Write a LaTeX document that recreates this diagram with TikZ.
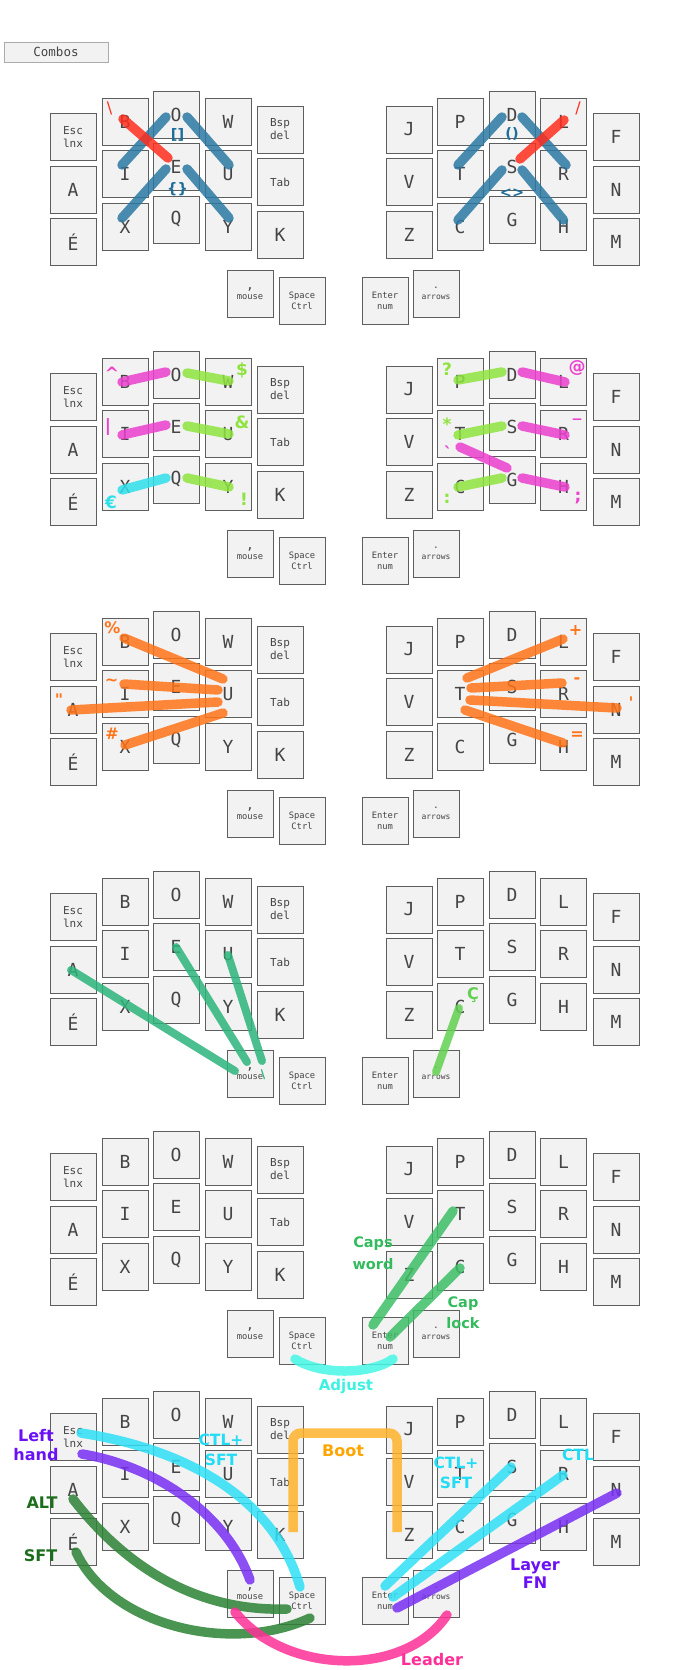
\documentclass[tikz,border=0pt]{standalone}
\usepackage{fontspec}
\setmainfont{DejaVu Sans}
\newfontfamily\keyfont{DejaVu Sans Mono}

\definecolor{keyfill}{HTML}{F2F2F2}
\definecolor{keyline}{HTML}{5E5E5E}
\definecolor{keytext}{HTML}{454545}
\definecolor{headline}{HTML}{ABABAB}
\definecolor{cbblue}{HTML}{2B79A3}
\definecolor{cbbluetx}{HTML}{1E6E9A}
\definecolor{cbred}{HTML}{FF2E1F}
\definecolor{cbpink}{HTML}{EC40CE}
\definecolor{cblime}{HTML}{8FE33F}
\definecolor{cbcyan}{HTML}{2EE0EA}
\definecolor{cborange}{HTML}{FF7418}
\definecolor{cbteal}{HTML}{2DB47C}
\definecolor{cbgreen}{HTML}{62D151}
\definecolor{cbcaps}{HTML}{3DBE66}
\definecolor{cbaqua}{HTML}{45F7E6}
\definecolor{cbsky}{HTML}{30E0F7}
\definecolor{cbpurple}{HTML}{7830F2}
\definecolor{cbdark}{HTML}{2C8235}
\definecolor{cbboot}{HTML}{FFB22B}
\definecolor{cbleader}{HTML}{FF2F97}
\definecolor{txpurple}{HTML}{6A12F5}
\definecolor{txdark}{HTML}{1C6E1C}
\definecolor{txsky}{HTML}{22DDF5}
\definecolor{txboot}{HTML}{FFA500}
\definecolor{txcaps}{HTML}{33BB5E}
\definecolor{txaqua}{HTML}{3EF2E2}

\tikzset{
  key/.style={rectangle, draw=keyline, fill=keyfill, line width=1pt,
    minimum width=46pt, minimum height=47pt, inner sep=0pt, text=keytext,
    font=\keyfont\fontsize{18}{20}\selectfont},
  keysm/.style={key, align=center, font=\keyfont\fontsize{11}{13}\selectfont},
  keytiny/.style={key, align=center, font=\keyfont\fontsize{8.8}{10.5}\selectfont},
  combo/.style={line width=9.5pt, line cap=round, opacity=0.85},
  sym/.style={inner sep=0pt, font=\bfseries\fontsize{17}{20}\selectfont},
  tag/.style={inner sep=0pt, align=center, font=\bfseries\fontsize{16}{19}\selectfont},
}

\begin{document}
\begin{tikzpicture}[x=1pt,y=-1pt]
\useasboundingbox (0,0) rectangle (691,1670);

\node[draw=headline, fill=keyfill, minimum width=104pt, minimum height=20pt, inner sep=0pt,
  text=keytext, font=\keyfont\fontsize{12.5}{14}\selectfont] (combos) at (56,52) {Combos};

% six copies of the board
\foreach \b in {1,...,6}{
  \pgfmathsetmacro\oy{260*(\b-1)}
  \foreach \cx/\cy/\ka/\kb/\kc in {125/121.5/B/I/X, 176/114.5/O/E/Q, 228/121.5/W/U/Y,
      409/129.5/J/V/Z, 460/121.5/P/T/C, 512/114.5/D/S/G, 563.5/121.5/L/R/H, 616/137/F/N/M}{
    \node[key] (\ka\b) at (\cx,\cy+\oy) {\ka};
    \node[key] (\kb\b) at (\cx,\cy+52.5+\oy) {\kb};
    \node[key] (\kc\b) at (\cx,\cy+105+\oy) {\kc};
  }
  \node[keysm] (Esc\b) at (73,137+\oy) {Esc\\lnx};
  \node[key] (A\b) at (73,189.5+\oy) {A};
  \node[key] (Ea\b) at (73,242+\oy) {É};
  \node[keysm] (Bsp\b) at (280,129.5+\oy) {Bsp\\del};
  \node[keysm] (Tab\b) at (280,182+\oy) {Tab};
  \node[key] (K\b) at (280,234.5+\oy) {K};
  \node[keytiny] (mouse\b) at (250,293.5+\oy) {{\fontsize{13}{9}\selectfont ,}\\mouse};
  \node[keytiny] (Space\b) at (302,301+\oy) {Space\\Ctrl};
  \node[keytiny] (Enter\b) at (385,301+\oy) {Enter\\num};
  \node[keytiny, font=\keyfont\fontsize{8}{10.5}\selectfont] (arrows\b) at (436,293.5+\oy) {{\fontsize{9.5}{10.5}\selectfont .}\\arrows};
}

% brackets
\draw[combo,cbblue] ([shift={(-3,-9)}]I1.center) -- ([shift={(-10,2.5)}]O1.center);
\draw[combo,cbblue] ([shift={(11,2.5)}]O1.center) -- ([shift={(1,-9)}]U1.center);
\draw[combo,cbblue] ([shift={(-3,-8.5)}]X1.center) -- ([shift={(-10,2)}]E1.center);
\draw[combo,cbblue] ([shift={(11,2)}]E1.center) -- ([shift={(1,-8.5)}]Y1.center);
\draw[combo,cbred] ([shift={(-2,-2.5)}]B1.center) -- ([shift={(-8,-9)}]E1.center);
\draw[combo,cbblue] ([shift={(-2,-9)}]T1.center) -- ([shift={(-10,2.5)}]D1.center);
\draw[combo,cbblue] ([shift={(10,2.5)}]D1.center) -- ([shift={(2.5,-9)}]R1.center);
\draw[combo,cbblue] ([shift={(-2,-6.5)}]C1.center) -- ([shift={(-10,3)}]S1.center);
\draw[combo,cbblue] ([shift={(10,3)}]S1.center) -- ([shift={(0,-6.5)}]H1.center);
\draw[combo,cbred] ([shift={(8,-8)}]S1.center) -- ([shift={(0.5,-1.5)}]L1.center);
\node[sym,font=\bfseries\fontsize{14.5}{17}\selectfont,text=cbbluetx] (sqbr) at (177.5,134.5) {[]};
\node[sym,font=\bfseries\fontsize{14.5}{17}\selectfont,text=cbbluetx] (cubr) at (177.5,189) {\{\}};
\node[sym,font=\bfseries\fontsize{14.5}{17}\selectfont,text=cbbluetx] (parn) at (512,134) {()};
\node[sym,font=\bfseries\fontsize{14.5}{17}\selectfont,text=cbbluetx] (angl) at (512,193) {<>};
\node[sym,font=\fontsize{16}{18}\selectfont,text=cbred] (bslash) at (109.5,108.5) {\textbackslash};
\node[sym,font=\fontsize{16}{18}\selectfont,text=cbred] (fslash) at (578,108.5) {/};

% symbols
\draw[combo,cbpink] ([shift={(-3,0.5)}]B2.center) -- ([shift={(-10,-2.5)}]O2.center);
\draw[combo,cblime] ([shift={(11,-1.5)}]O2.center) -- ([shift={(1,-0.5)}]W2.center);
\draw[combo,cbpink] ([shift={(-3,1)}]I2.center) -- ([shift={(-10,-2)}]E2.center);
\draw[combo,cblime] ([shift={(11,-1)}]E2.center) -- ([shift={(1,0)}]U2.center);
\draw[combo,cbcyan] ([shift={(-3,3.5)}]X2.center) -- ([shift={(-10,-1.5)}]Q2.center);
\draw[combo,cblime] ([shift={(11,-1.5)}]Q2.center) -- ([shift={(1,0.5)}]Y2.center);
\draw[combo,cblime] ([shift={(-2,-1.5)}]P2.center) -- ([shift={(-10,-2.5)}]D2.center);
\draw[combo,cbpink] ([shift={(10,-2.5)}]D2.center) -- ([shift={(1.5,0.5)}]L2.center);
\draw[combo,cblime] ([shift={(-2,1)}]T2.center) -- ([shift={(-10,-1)}]S2.center);
\draw[combo,cbpink] ([shift={(10,-1)}]S2.center) -- ([shift={(1.5,1)}]R2.center);
\draw[combo,cbpink] ([shift={(0,13)}]T2.center) -- ([shift={(-5,-11.5)}]G2.center);
\draw[combo,cblime] ([shift={(-2,0.5)}]C2.center) -- ([shift={(-10,-1.5)}]G2.center);
\draw[combo,cbpink] ([shift={(10,-1.5)}]G2.center) -- ([shift={(1.5,0.5)}]H2.center);
\node[sym,text=cbpink] (caret) at (112,373) {\^{}};
\node[sym,text=cblime] (dollar) at (242,370) {\$};
\node[sym,text=cbpink] (pipe) at (108,427.5) {|};
\node[sym,text=cblime] (amp) at (242,422) {\&};
\node[sym,text=cbcyan] (euro) at (111,502) {€};
\node[sym,text=cblime] (bang) at (244,499.5) {!};
\node[sym,text=cblime] (quest) at (447,369.5) {?};
\node[sym,text=cbpink] (at) at (577,368) {@};
\node[sym,text=cblime] (star) at (447,424) {*};
\node[sym,text=cbpink] (under) at (577,418.5) {\_};
\node[sym,text=cbpink] (grave) at (448,453) {\textasciigrave};
\node[sym,text=cblime] (colon) at (447,499) {:};
\node[sym,text=cbpink] (semi) at (578,498) {;};

% more symbols
\draw[combo,cborange] ([shift={(-1,-3.5)}]B3.center) -- ([shift={(-5,-15)}]U3.center);
\draw[combo,cborange] ([shift={(-1,-10)}]I3.center) -- ([shift={(-10,-4)}]U3.center);
\draw[combo,cborange] ([shift={(-2,0.5)}]A3.center) -- ([shift={(-10,8)}]U3.center);
\draw[combo,cborange] ([shift={(0,-1.5)}]X3.center) -- ([shift={(-5,19)}]U3.center);
\draw[combo,cborange] ([shift={(7,-16)}]T3.center) -- ([shift={(-0.5,-2.5)}]L3.center);
\draw[combo,cborange] ([shift={(11,-6)}]T3.center) -- ([shift={(-1.5,-11)}]R3.center);
\draw[combo,cborange] ([shift={(10,6)}]T3.center) -- ([shift={(1,-1.5)}]N3.center);
\draw[combo,cborange] ([shift={(5,16)}]T3.center) -- ([shift={(-0.5,-3.5)}]H3.center);
\node[sym,font=\bfseries\fontsize{16}{19}\selectfont,text=cborange] (pct) at (112.5,628) {\%};
\node[sym,font=\bfseries\fontsize{16}{19}\selectfont,text=cborange] (tilde) at (111.5,682) {\~{}};
\node[sym,font=\bfseries\fontsize{16}{19}\selectfont,text=cborange] (dquote) at (59,700) {\textquotedbl};
\node[sym,font=\bfseries\fontsize{16}{19}\selectfont,text=cborange] (hash) at (112,733.5) {\#};
\node[sym,font=\bfseries\fontsize{16}{19}\selectfont,text=cborange] (plus) at (575.5,630) {+};
\node[sym,font=\bfseries\fontsize{16}{19}\selectfont,text=cborange] (minus) at (577,681) {-};
\node[sym,font=\bfseries\fontsize{16}{19}\selectfont,text=cborange] (squote) at (631,703) {\textquotesingle};
\node[sym,font=\bfseries\fontsize{16}{19}\selectfont,text=cborange] (equal) at (577,735.5) {=};

% accents
\draw[combo,cbteal,line width=8pt] ([shift={(-2,0.5)}]A4.center) -- ([shift={(-15,-2.5)}]mouse4.center);
\draw[combo,cbteal,line width=8pt] (E4.center) -- ([shift={(-3,-11.5)}]mouse4.center);
\draw[combo,cbteal,line width=8pt] ([shift={(0,1)}]U4.center) -- ([shift={(12,-12.5)}]mouse4.center);
\draw[combo,cbgreen,line width=8pt] ([shift={(-1,1.5)}]C4.center) -- ([shift={(0,-1.5)}]arrows4.center);
\node[sym,font=\bfseries\fontsize{12}{14}\selectfont,text=cbteal] (accent) at (263,1075) {\textbackslash};
\node[sym,font=\bfseries\fontsize{16}{19}\selectfont,text=cbgreen] (cced) at (473,995) {Ç};

% caps
\draw[combo,cbcaps] ([shift={(-7,-3)}]T5.center) -- ([shift={(-12,-16)}]Enter5.center);
\draw[combo,cbcaps] ([shift={(0,1.5)}]C5.center) -- ([shift={(5,-4)}]Enter5.center);
\draw[combo,cbaqua] ([shift={(-7,18)}]Space5.center) .. controls +(25,16) and +(-23,16) .. ([shift={(8,18)}]Enter5.center);
\node[tag,font=\bfseries\fontsize{14.5}{22}\selectfont,text=txcaps] (capsword) at (373,1253) {Caps\\word};
\node[tag,font=\bfseries\fontsize{14.5}{21}\selectfont,text=txcaps] (caplock) at (463,1313) {Cap\\lock};
\node[tag,font=\bfseries\fontsize{15}{18}\selectfont,text=txaqua] (adjust) at (346,1386) {Adjust};

% mods
\draw[combo,cbsky] ([shift={(8,-4)}]Esc6.center) .. controls +(109,17) and +(-25,-87) .. ([shift={(-2,-14)}]Space6.center);
\draw[combo,cbpurple] ([shift={(9,17)}]Esc6.center) .. controls +(68,11) and +(-25,-70) .. ([shift={(0,-13.5)}]mouse6.center);
\draw[combo,cbdark] ([shift={(0,9.5)}]A6.center) .. controls +(47,61) and +(-97,3) .. ([shift={(-15,8)}]Space6.center);
\draw[combo,cbdark] ([shift={(3,10)}]Ea6.center) .. controls +(34,73) and +(-80,37) .. ([shift={(8,17)}]Space6.center);
\draw[combo,cbboot,line cap=butt,rounded corners=8pt] ([shift={(13,-2.5)}]K6.center) |- ([shift={(-12,-101.5)}]Z6.center) -- ([shift={(-12,-2.5)}]Z6.center);
\draw[combo,cbleader] ([shift={(-15,18.5)}]mouse6.center) .. controls +(50,63) and +(-42,63) .. ([shift={(11,21.5)}]arrows6.center);
\draw[combo,cbsky] ([shift={(0,-15)}]Enter6.center) -- ([shift={(-1,0)}]S6.center);
\draw[combo,cbsky] ([shift={(8,-4)}]Enter6.center) -- ([shift={(-0.5,1)}]R6.center);
\draw[combo,cbpurple] ([shift={(12,7)}]Enter6.center) -- ([shift={(1,3.5)}]N6.center);
\node[tag,text=txpurple] (lefthand) at (36,1445) {Left\\hand};
\node[tag,text=txdark] (alt) at (42,1502.5) {ALT};
\node[tag,text=txdark] (sft) at (40.5,1555.5) {SFT};
\node[tag,font=\bfseries\fontsize{15.5}{20}\selectfont,text=txsky] (ctlsftl) at (221,1450) {CTL+\\SFT};
\node[tag,text=txboot] (boot) at (343,1451) {Boot};
\node[tag,font=\bfseries\fontsize{15.5}{20}\selectfont,text=txsky] (ctlsftr) at (456,1473) {CTL+\\SFT};
\node[tag,font=\bfseries\fontsize{15.5}{20}\selectfont,text=txsky] (ctl) at (578,1455) {CTL};
\node[tag,font=\bfseries\fontsize{16}{18}\selectfont,text=txpurple] (layerfn) at (535,1574) {Layer\\FN};
\node[tag,text=cbleader] (leader) at (432,1660) {Leader};
\end{tikzpicture}
\end{document}
